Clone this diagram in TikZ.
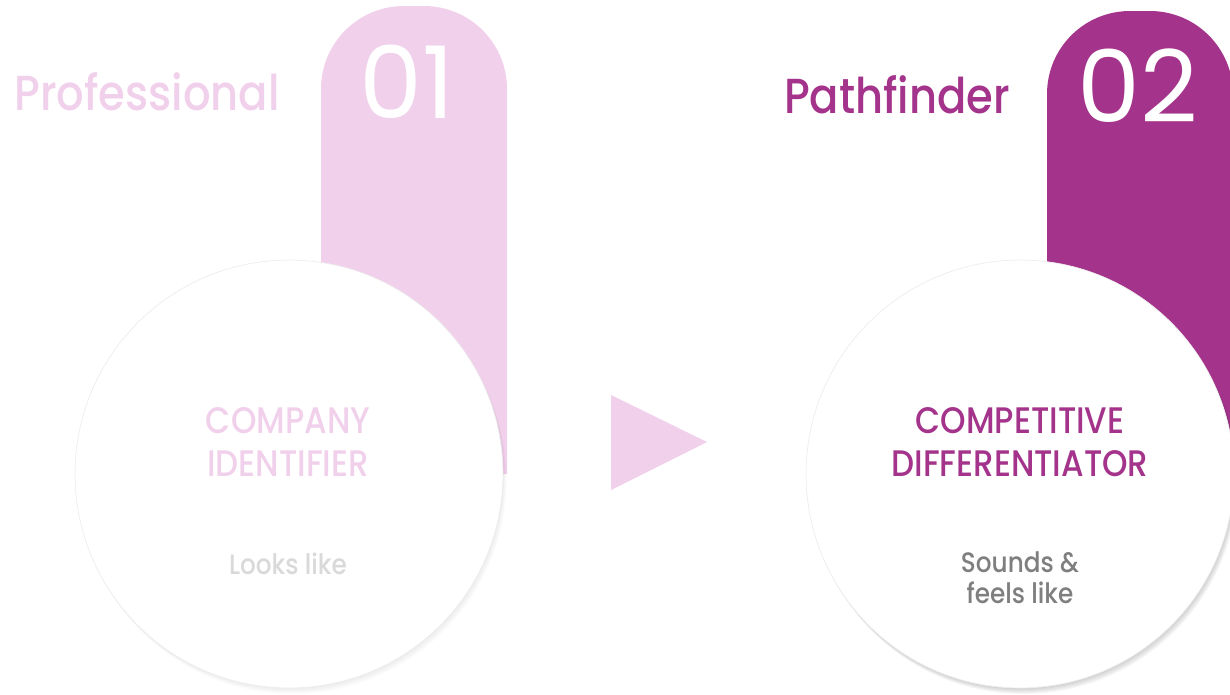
\documentclass[tikz,border=0pt]{standalone}
\usepackage{fontspec}
\setmainfont{Poppins Medium}[FakeStretch=0.88]
\newfontfamily\numfont{Poppins}
\usetikzlibrary{positioning, backgrounds}

\definecolor{pinklight}{HTML}{F1D0EB}
\definecolor{plum}{HTML}{A4338B}
\definecolor{greylight}{HTML}{D9D9D9}
\definecolor{greymid}{HTML}{7F7F7F}

\begin{document}
\begin{tikzpicture}[
        x=0.02cm, y=-0.02cm,
        disc/.style={circle, fill=white, draw=black!7, line width=0.4pt,
          minimum size=8.56cm, inner sep=0pt},
        title/.style={font=\fontsize{28}{30}\selectfont, anchor=base},
        digits/.style={font=\numfont\fontsize{57}{60}\selectfont, text=white, anchor=base},
        caption/.style={font=\fontsize{21}{24.4}\selectfont, align=center},
        note/.style={font=\fontsize{16}{17.6}\selectfont, align=center},
      ]
      \useasboundingbox (0,0) rectangle (1230,694);

      \node[disc] (disc1) at (289,474) {};
      \node[disc] (disc2) at (1020,474) {};

      \begin{pgfonlayer}{background}
        % number tabs behind the discs
        \fill[pinklight] (321,474) -- (321,89) arc (180:270:83) -- (424,6)
          arc (270:360:83) -- (507,474) -- cycle;
        \fill[plum] (1047,474) -- (1047,94) arc (180:270:83) -- (1150,11)
          arc (270:360:83) -- (1233,474) -- cycle;
        % soft shadows
        \foreach \k in {1,...,6} {
          \fill[black, opacity=0.012] ([shift={(\k*0.6,\k)}]disc1.center) circle (214);
          \fill[black, opacity=0.03] ([shift={(\k*0.6,\k)}]disc2.center) circle (214);
        }
      \end{pgfonlayer}

      \node[title, text=pinklight] (word1) at (147,110) {Professional};
      \node[title, text=plum] (word2) at (897,113) {Pathfinder};
      \node[digits] (num1) at (407,118) {01};
      \node[digits] (num2) at (1138,122) {02};

      \node[caption, text=pinklight] (cap1) at (288,442) {COMPANY\\IDENTIFIER};
      \node[caption, text=plum] (cap2) at (1020,442) {COMPETITIVE\\DIFFERENTIATOR};

      \node[note, text=greylight, anchor=base] (sub1) at (288,574) {Looks like};
      \node[note, text=greymid] (sub2) at (1020,578) {Sounds \&\\feels like};

      % arrow between the stages
      \fill[pinklight] (611,395) -- (707,442) -- (611,490) -- cycle;

    \end{tikzpicture}
\end{document}
